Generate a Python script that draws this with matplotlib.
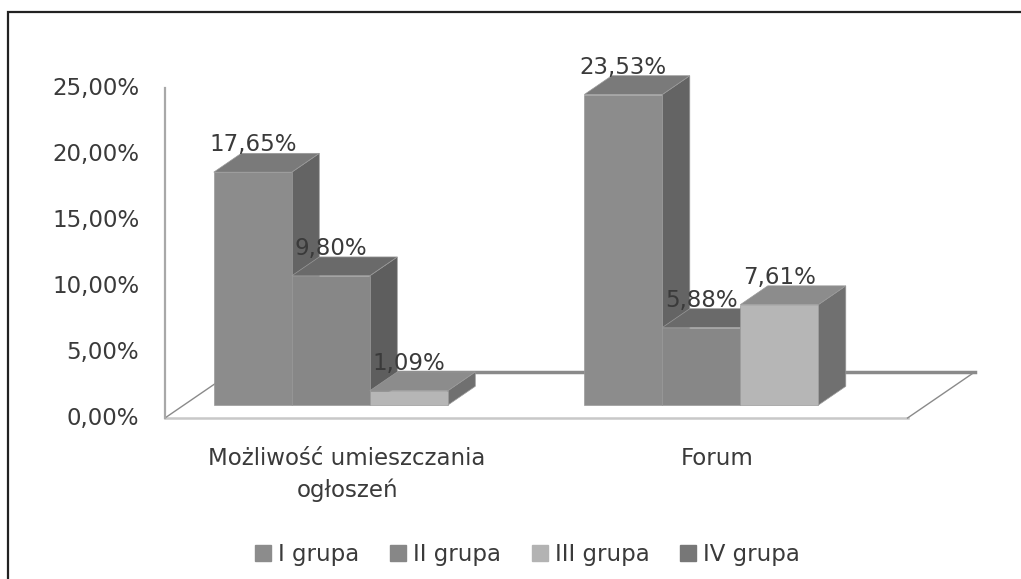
import matplotlib
matplotlib.use("Agg")
import matplotlib.pyplot as plt
from matplotlib.patches import Polygon, Rectangle
from matplotlib.lines import Line2D

# ---------------------------------------------------------------------------
# data
# ---------------------------------------------------------------------------
categories = ["Możliwość umieszczania\nogłoszeń", "Forum"]
series_names = ["I grupa", "II grupa", "III grupa", "IV grupa"]
i_grupa = [17.65, 23.53]
ii_grupa = [9.80, 5.88]
iii_grupa = [1.09, 7.61]
iv_grupa = [0.0, 0.0]
y_ticks = [0, 5, 10, 15, 20, 25]

# ---------------------------------------------------------------------------
# style / 3D look
# ---------------------------------------------------------------------------
front_colors = ["#8c8c8c", "#878787", "#b6b6b6", "#7a7a7a"]
top_colors = ["#7a7a7a", "#6a6a6a", "#8c8c8c", "#6a6a6a"]
side_colors = ["#646464", "#5e5e5e", "#707070", "#5a5a5a"]
legend_colors = ["#8c8c8c", "#878787", "#b3b3b3", "#777777"]
TEXT = "#3a3a3a"
FS = 16.5

DX, DY = 0.86, 3.48       # full floor depth offset (x units, %)
Z0, Z1 = 0.28, 0.69       # bar depth range
GAP = 0.75                # gap between clusters (bar widths)
MARGIN = 0.385            # floor margin

W, H = 1021, 579
fig = plt.figure(figsize=(W / 100, H / 100), dpi=100)
ax = fig.add_axes([0, 0, 1, 1])
ax.set_xlim(-195 / 78, (W - 195) / 78)
ax.set_ylim(-(H - 418) / 13.2, 418 / 13.2)
ax.axis("off")


def proj(x, y, z):
    return (x + z * DX, y + z * DY)


def pct(v):
    return f"{v:.2f}".replace(".", ",") + "%"


series = [i_grupa, ii_grupa, iii_grupa, iv_grupa]
n_ser = len(series)
stride = n_ser + GAP
x_left = -MARGIN
x_right = (len(categories) - 1) * stride + n_ser + MARGIN

# floor
ax.plot(*zip(proj(x_left, 0, 1), proj(x_right, 0, 1)), color="#8a8a8a", lw=2.5, zorder=1)
ax.plot(*zip(proj(x_left, 0, 0), proj(x_right, 0, 0)), color="#c8c8c8", lw=1.8, zorder=1)
ax.plot(*zip(proj(x_left, 0, 0), proj(x_left, 0, 1)), color="#8a8a8a", lw=1, zorder=1)
ax.plot(*zip(proj(x_right, 0, 0), proj(x_right, 0, 1)), color="#8a8a8a", lw=1, zorder=1)

# value axis line + tick labels
ax.plot([x_left, x_left], [0, max(y_ticks)], color="#a8a8a8", lw=1.6, zorder=1)
for v in y_ticks:
    ax.text(x_left - 0.33, v, pct(v), ha="right", va="center", fontsize=FS, color=TEXT)

# bars
z = 2
for ci, cat in enumerate(categories):
    base = ci * stride
    for si in range(n_ser):
        h = series[si][ci]
        if h <= 0:
            continue
        xl = base + si
        front = [proj(xl, 0, Z0), proj(xl + 1, 0, Z0), proj(xl + 1, h, Z0), proj(xl, h, Z0)]
        top = [proj(xl, h, Z0), proj(xl + 1, h, Z0), proj(xl + 1, h, Z1), proj(xl, h, Z1)]
        side = [proj(xl + 1, 0, Z0), proj(xl + 1, 0, Z1), proj(xl + 1, h, Z1), proj(xl + 1, h, Z0)]
        for pts, col in [(side, side_colors[si]), (top, top_colors[si]), (front, front_colors[si])]:
            ax.add_patch(Polygon(pts, closed=True, facecolor=col,
                                 edgecolor="#9a9a9a", lw=0.5, zorder=z))
            z += 1
    # value labels above bars
    for si in range(n_ser):
        h = series[si][ci]
        if h <= 0:
            continue
        cx, _ = proj(base + si + 0.5, h, Z0)
        ax.text(cx, h + Z1 * DY + 0.65, pct(h), ha="center", va="center",
                fontsize=FS, color=TEXT, zorder=100)
    # category label
    ax.text(base + n_ser / 2 - 0.05, -2.2, cat, ha="center", va="top",
            fontsize=FS, color=TEXT, linespacing=1.45)

# legend
handles = [Line2D([0], [0], marker="s", linestyle="None", markersize=11.5,
                  markerfacecolor=c, markeredgecolor=c) for c in legend_colors]
fig.legend(handles, series_names, loc="center", bbox_to_anchor=(0.516, 0.043),
           ncol=4, frameon=False, fontsize=FS, handletextpad=0.25,
           columnspacing=1.3, handlelength=0.8, labelcolor=TEXT)

# outer frame (cropped at right and bottom)
fig.add_artist(Rectangle((8 / W, -0.1), 1.2, 1 - 12 / H + 0.1, transform=fig.transFigure,
                         fill=False, edgecolor="#222222", lw=1.6))

fig.savefig("out.png", dpi=100)
